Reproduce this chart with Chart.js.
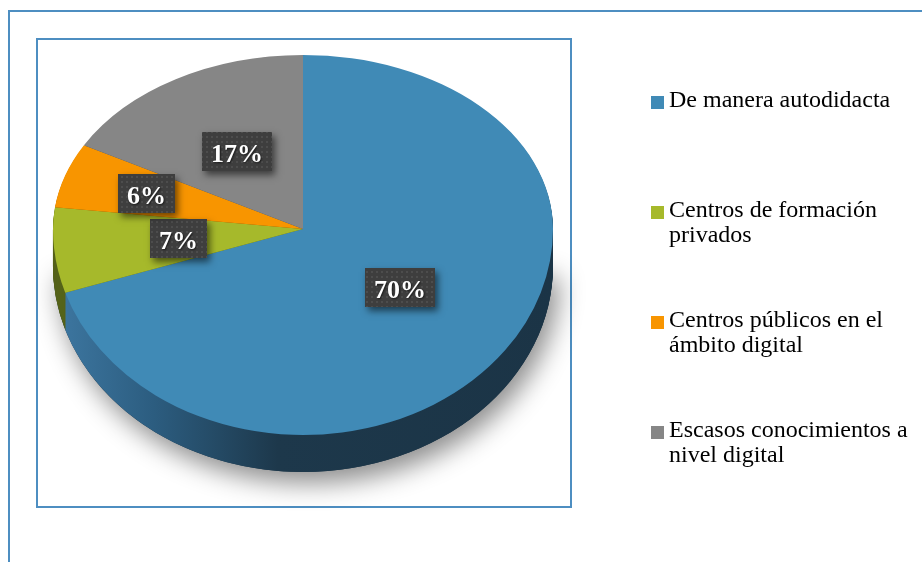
<!DOCTYPE html>
<html>
<head>
<meta charset="utf-8">
<script src="https://cdn.jsdelivr.net/npm/chart.js@4.4.1/dist/chart.umd.min.js"></script>
<style>
  html, body { margin: 0; padding: 0; width: 922px; height: 562px; overflow: hidden; background: #fff; }
  .frame { position: absolute; left: 8px; top: 10px; width: 1000px; height: 1000px; border: 2px solid #4d8ec1; }
  .box { position: absolute; left: 36px; top: 38px; width: 532px; height: 466px; border: 2px solid #4d8ec1; }
  #chart { position: absolute; left: 0; top: 0; }
  #legend { position: absolute; left: 669px; top: 87px; width: 245px; font-family: "Liberation Serif", "Times New Roman", serif; font-size: 24px; line-height: 25px; color: #000; }
  #legend .item { position: relative; height: 110px; }
  #legend .swatch { position: absolute; left: -18px; top: 9px; width: 13px; height: 13px; }
</style>
</head>
<body>
<div class="frame"></div>
<div class="box"></div>
<canvas id="chart" width="922" height="562"></canvas>
<div id="legend"></div>
<script>
// data
const categories = ["De manera autodidacta", "Centros de formación privados", "Centros públicos en el ámbito digital", "Escasos conocimientos a nivel digital"];
const values = [70, 7, 6, 17];

// styles
const colors = ["#408ab6", "#a6b92b", "#f89500", "#868686"];
const sideColors = ["#1b3446", "#56631a", "#7f4d00", "#4a4a4a"];
const labelDist = [0.48, 0.5, 0.66, 0.52];

// 3d look: apex y on screen, vertical squash for back / front half, thickness
const CY = 229, K_TOP = 0.696, K_BOT = 0.824, DEPTH = 37;

function half(ctx, arc, top, dy, fn) {
    ctx.save();
    ctx.beginPath();
    if (top) ctx.rect(0, -1000, 2000, CY + dy + 1000);
    else ctx.rect(0, CY + dy, 2000, 2000);
    ctx.clip();
    ctx.translate(0, CY + dy);
    ctx.scale(1, top ? K_TOP : K_BOT);
    ctx.translate(0, -arc.y);
    fn();
    ctx.restore();
}

function project(arc, angle, f) {
    const s = Math.sin(angle);
    return {
        x: arc.x + f * arc.outerRadius * Math.cos(angle),
        y: CY + f * arc.outerRadius * s * (s < 0 ? K_TOP : K_BOT)
    };
}

const pie3d = {
    id: "pie3d",
    beforeDatasetsDraw(chart) {
        const ctx = chart.ctx;
        const arcs = chart.getDatasetMeta(0).data;
        const a0 = arcs[0];

        const sideGrad = ctx.createLinearGradient(a0.x - a0.outerRadius, 0, a0.x + a0.outerRadius, 0);
        sideGrad.addColorStop(0, "#3e78a2");
        sideGrad.addColorStop(0.2, "#2c5d80");
        sideGrad.addColorStop(0.45, "#1d384b");
        sideGrad.addColorStop(1, "#1b3446");

        const slice = (a, fill) => {
            ctx.fillStyle = fill;
            ctx.beginPath();
            ctx.moveTo(a.x, a.y);
            ctx.arc(a.x, a.y, a.outerRadius, a.startAngle, a.endAngle);
            ctx.closePath();
            ctx.fill();
        };

        // soft shadow under the pie
        ctx.save();
        ctx.shadowColor = "rgba(0,0,0,0.45)";
        ctx.shadowBlur = 26;
        ctx.shadowOffsetX = 6;
        ctx.shadowOffsetY = 11;
        ctx.fillStyle = "#1b3446";
        ctx.beginPath();
        ctx.ellipse(a0.x, CY + DEPTH, a0.outerRadius, a0.outerRadius * K_BOT, 0, 0, Math.PI);
        ctx.closePath();
        ctx.fill();
        ctx.restore();

        // side walls
        for (let d = DEPTH; d >= 1; d--) {
            [true, false].forEach(top => {
                half(ctx, a0, top, d, () => {
                    arcs.forEach((a, i) => slice(a, i === 0 ? sideGrad : sideColors[i]));
                });
            });
        }

        // top face, drawn by the arc elements
        [true, false].forEach(top => {
            half(ctx, a0, top, 0, () => arcs.forEach(a => a.draw(ctx)));
        });
        return false;
    },
    afterDraw(chart) {
        const ctx = chart.ctx;
        const arcs = chart.getDatasetMeta(0).data;

        const pc = document.createElement("canvas");
        pc.width = 5; pc.height = 5;
        const pctx = pc.getContext("2d");
        pctx.fillStyle = "#3e3e3e";
        pctx.fillRect(0, 0, 5, 5);
        pctx.fillStyle = "#4d4d4d";
        pctx.fillRect(1, 1, 2, 2);
        const dots = ctx.createPattern(pc, "repeat");

        ctx.save();
        ctx.font = 'bold 26px "Liberation Serif", "Times New Roman", serif';
        arcs.forEach((a, i) => {
            const mid = (a.startAngle + a.endAngle) / 2;
            const p = project(a, mid, labelDist[i]);
            const text = values[i] + "%";
            const w = ctx.measureText(text).width + 18;
            const h = 39;
            const bx = Math.round(p.x - w / 2), by = Math.round(p.y - h / 2);

            ctx.save();
            ctx.shadowColor = "rgba(0,0,0,0.55)";
            ctx.shadowBlur = 7;
            ctx.shadowOffsetX = 3;
            ctx.shadowOffsetY = 4;
            ctx.fillStyle = "#3e3e3e";
            ctx.fillRect(bx, by, w, h);
            ctx.restore();
            ctx.fillStyle = dots;
            ctx.fillRect(bx, by, w, h);

            ctx.save();
            ctx.shadowColor = "rgba(0,0,0,0.6)";
            ctx.shadowBlur = 2;
            ctx.shadowOffsetX = 1;
            ctx.shadowOffsetY = 1;
            ctx.fillStyle = "#ffffff";
            ctx.textAlign = "center";
            ctx.textBaseline = "alphabetic";
            ctx.fillText(text, bx + w / 2, by + 30);
            ctx.restore();
        });
        ctx.restore();
    }
};

const chart = new Chart(document.getElementById("chart"), {
    type: "pie",
    data: {
        labels: categories,
        datasets: [{
            data: values,
            backgroundColor: colors,
            borderWidth: 0,
            clip: false
        }]
    },
    options: {
        responsive: false,
        animation: false,
        events: [],
        layout: { padding: { left: 53, right: 369, top: 31, bottom: 31 } },
        plugins: {
            legend: { display: false },
            tooltip: { enabled: false }
        }
    },
    plugins: [pie3d]
});

// legend on the right
const legend = document.getElementById("legend");
categories.forEach((name, i) => {
    const item = document.createElement("div");
    item.className = "item";
    const sw = document.createElement("span");
    sw.className = "swatch";
    sw.style.background = colors[i];
    item.appendChild(sw);
    item.appendChild(document.createTextNode(name));
    legend.appendChild(item);
});
</script>
</body>
</html>
